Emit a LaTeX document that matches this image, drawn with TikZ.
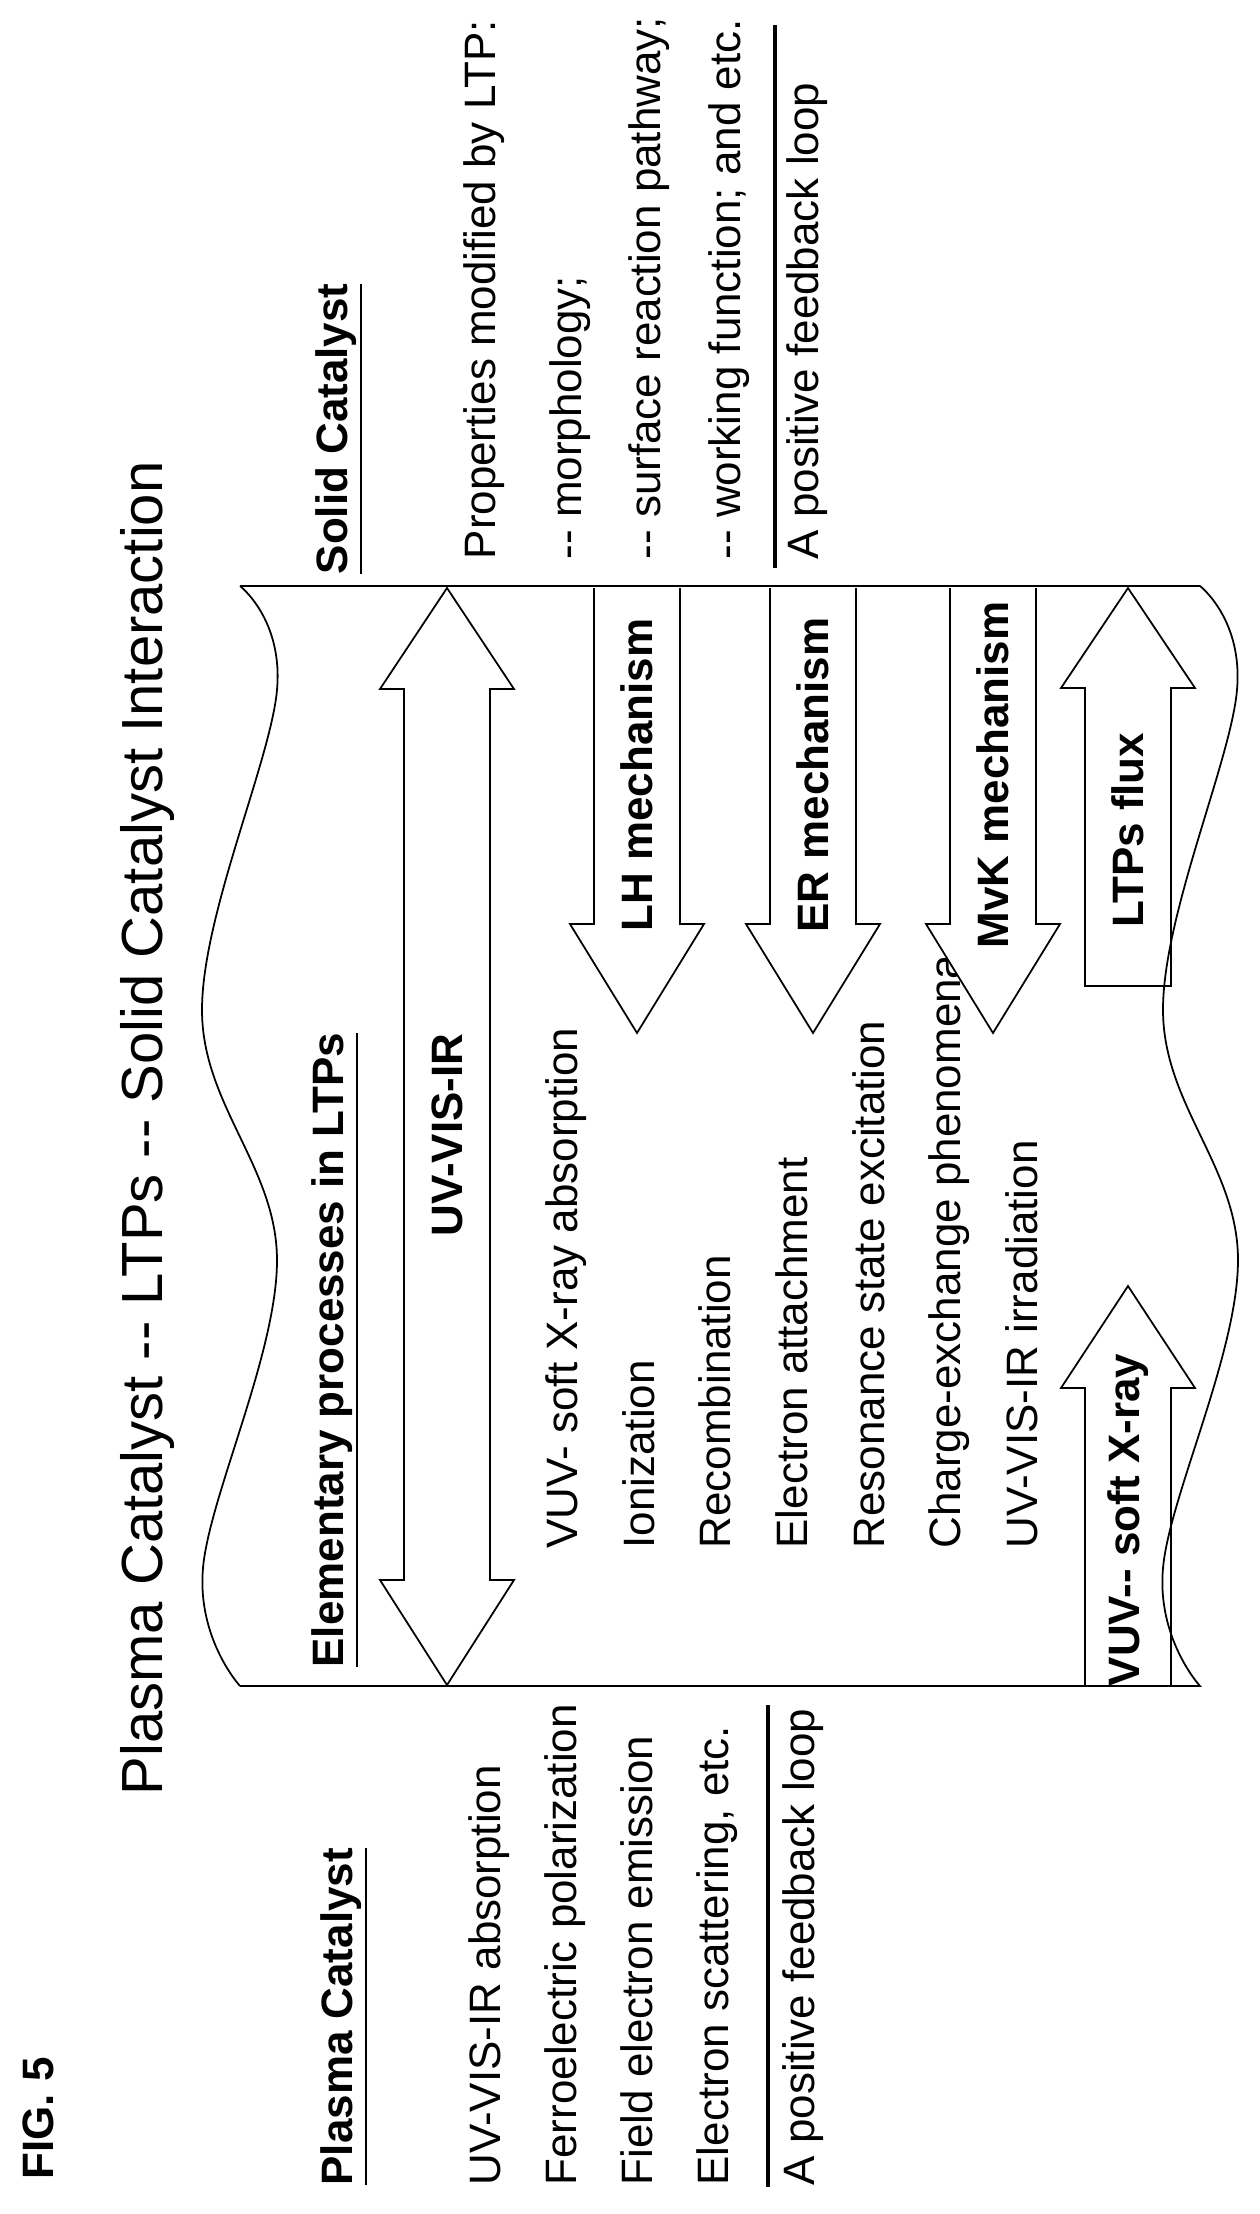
\documentclass[tikz,border=0pt]{standalone}
\usepackage{fontspec}
\setmainfont{Liberation Sans}
\begin{document}
\begin{tikzpicture}[x=0.01cm,y=-0.01cm,
  txt/.style={rotate=90,anchor=base west,inner sep=0pt,font=\fontsize{12.5}{14}\selectfont},
  lbl/.style={rotate=90,inner sep=0pt,font=\bfseries\fontsize{12.5}{14}\selectfont},
  hollow/.style={draw,line width=.5pt}]
\useasboundingbox (0,0) rectangle (1260,2214);
\node[txt,font=\bfseries\fontsize{12.5}{14}\selectfont] (fig) at(53,2180) {FIG. 5};
\node[txt,font=\fontsize{16.5}{18}\selectfont] (title) at(162,1796) {Plasma Catalyst {-}{-} LTPs {-}{-} Solid Catalyst Interaction};
% left column
\node[txt,font=\bfseries\fontsize{12.5}{14}\selectfont] (plasma) at(352,2186) {\underline{Plasma Catalyst}};
\node[txt] (pc1) at(500,2186) {UV-VIS-IR absorption};
\node[txt] (pc2) at(576,2186) {Ferroelectric polarization};
\node[txt] (pc3) at(652,2186) {Field electron emission};
\node[txt] (pc4) at(728,2186) {Electron scattering, etc.};
\node[txt] (pcloop) at(814,2186) {A positive feedback loop};
\coordinate (pcl1) at(768,2187);
\coordinate (pcl2) at(768,1705);
\draw[line width=1pt] (pcl1) -- (pcl2);
% right column
\node[txt,font=\bfseries\fontsize{12.5}{14}\selectfont] (solid) at(347,575) {\underline{Solid Catalyst}};
\node[txt] (sc1) at(495,560) {Properties modified by LTP:};
\node[txt] (sc2) at(581,560) {{-}{-} morphology;};
\node[txt] (sc3) at(660,560) {{-}{-} surface reaction pathway;};
\node[txt] (sc4) at(740,560) {{-}{-} working function; and etc.};
\node[txt] (scloop) at(818,560) {A positive feedback loop};
\coordinate (scl1) at(775,568);
\coordinate (scl2) at(775,25);
\draw[line width=1pt] (scl1) -- (scl2);
% wavy frame
\coordinate (ftr) at(240,586);
\coordinate (ftl) at(240,1686);
\coordinate (fbr) at(1200,586);
\coordinate (fbl) at(1200,1686);
\draw[hollow] (ftr) -- (fbr) plot[smooth,tension=.6] coordinates{(1200,586) (1237,690) (1163,1010) (1238,1260) (1163,1568) (1200,1686)} -- (ftl)
  plot[smooth,tension=.6] coordinates{(240,1686) (203,1568) (277,1260) (202,1010) (277,690) (240,586)};
% middle
\node[txt,font=\bfseries\fontsize{12.5}{14}\selectfont] (elem) at(343,1668) {\underline{Elementary processes in LTPs}};
\node[txt] (ep1) at(577,1549) {VUV- soft X-ray absorption};
\node[txt] (ep2) at(654,1549) {Ionization};
\node[txt] (ep3) at(730,1549) {Recombination};
\node[txt] (ep4) at(807,1549) {Electron attachment};
\node[txt] (ep5) at(884,1549) {Resonance state excitation};
\node[txt] (ep6) at(960,1549) {Charge-exchange phenomena};
\node[txt] (ep7) at(1037,1549) {UV-VIS-IR irradiation};
% arrows
\draw[hollow] (447,588) -- (514,689) -- (490,689) -- (490,1580) -- (514,1580) -- (447,1685)
  -- (380,1580) -- (404,1580) -- (404,689) -- (380,689) -- cycle;
\foreach \c in {637,813,993}
  \draw[hollow,fill=white] (\c-43,588) -- (\c-43,924) -- (\c-67,924) -- (\c,1033) -- (\c+67,924) -- (\c+43,924) -- (\c+43,588);
\foreach \t/\b/\e in {588/688/986,1286/1388/1686}
  \draw[hollow] (1128,\t) -- (1195,\b) -- (1171,\b) -- (1171,\e) -- (1085,\e) -- (1085,\b) -- (1061,\b) -- cycle;
\node[lbl] (uv) at(447,1135) {UV-VIS-IR};
\node[lbl] (lh) at(637,775) {LH mechanism};
\node[lbl] (er) at(813,775) {ER mechanism};
\node[lbl] (mvk) at(993,775) {MvK mechanism};
\node[lbl] (flux) at(1128,830) {LTPs flux};
\node[lbl] (vuv) at(1128,1520) {VUV{-}{-} soft X-ray};
\end{tikzpicture}
\end{document}
